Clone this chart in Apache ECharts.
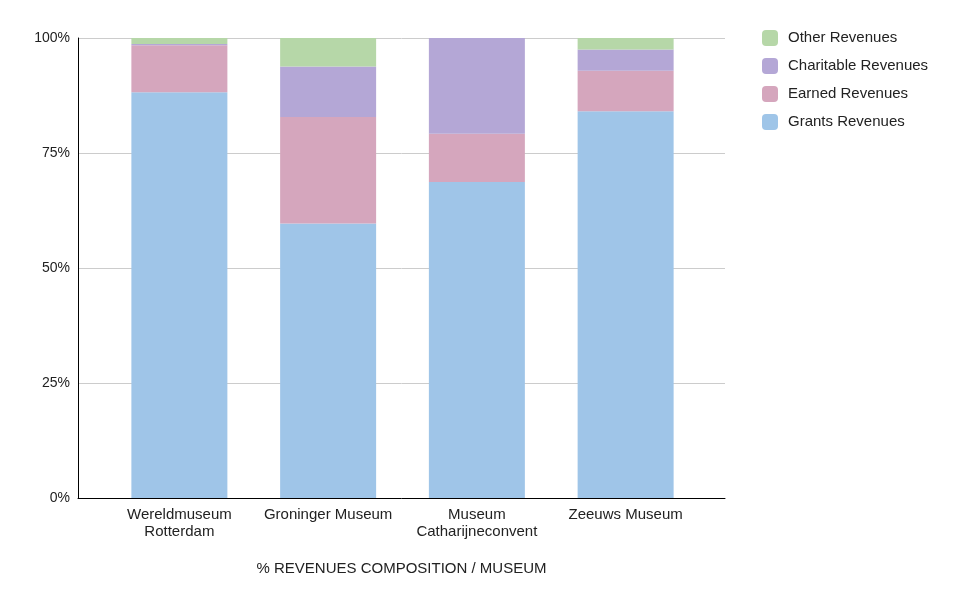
<!DOCTYPE html>
<html><head><meta charset="utf-8">
<script src="https://cdn.jsdelivr.net/npm/echarts@6/dist/echarts.min.js"></script>
<style>html,body{margin:0;padding:0;background:#fff}#c{width:962px;height:606px}</style>
</head><body><div id="c"></div>
<script>
const categories = ['Wereldmuseum\nRotterdam', 'Groninger Museum', 'Museum\nCatharijneconvent', 'Zeeuws Museum'];
const grants = [88.2, 59.7, 68.7, 84.1];
const earned = [10.2, 23.1, 10.5, 8.8];
const charitable = [0.3, 11.0, 20.8, 4.6];
const other = [1.3, 6.2, 0, 2.5];
const yTicks = [0, 25, 50, 75, 100];

const font = 'Liberation Sans, Arial, sans-serif';
const chart = echarts.init(document.getElementById('c'));
function bar(name, data, color) {
  return { name, type: 'bar', stack: 's', data, xAxisIndex: 1, yAxisIndex: 1,
    barWidth: 96, itemStyle: { color }, emphasis: { disabled: true } };
}
chart.setOption({
  animation: false,
  textStyle: { fontFamily: font },
  legend: {
    orient: 'vertical', left: 757, top: 25, itemGap: 12, itemWidth: 16, itemHeight: 16,
    icon: 'roundRect', data: ['Other Revenues', 'Charitable Revenues', 'Earned Revenues', 'Grants Revenues'],
    textStyle: { fontSize: 15, color: '#222', fontFamily: font, padding: [0, 0, 0, 5] }
  },
  grid: [
    { left: 78, right: 237, top: 38, bottom: 108 },
    { left: 105, right: 262, top: 38, bottom: 108 }
  ],
  xAxis: [
    { type: 'category', gridIndex: 0, data: categories, axisTick: { show: false }, axisLabel: { show: false },
      axisLine: { lineStyle: { color: '#000', width: 1 } },
      name: '% REVENUES COMPOSITION / MUSEUM', nameLocation: 'middle', nameGap: 63,
      nameTextStyle: { fontSize: 15, color: '#222', fontFamily: font } },
    { type: 'category', gridIndex: 1, data: categories, axisTick: { show: false }, axisLine: { show: false },
      axisLabel: { fontSize: 15, color: '#222', margin: 8, lineHeight: 17, fontFamily: font, interval: 0 } }
  ],
  yAxis: [
    { type: 'value', gridIndex: 0, min: 0, max: 100, interval: 25,
      axisLine: { show: true, lineStyle: { color: '#000', width: 1 } }, axisTick: { show: false },
      splitLine: { lineStyle: { color: '#cccccc' } },
      axisLabel: { fontSize: 14, color: '#222', margin: 8, fontFamily: font,
        formatter: v => yTicks.includes(v) ? v + '%' : '' } },
    { type: 'value', gridIndex: 1, min: 0, max: 100, interval: 25, show: false, splitLine: { show: false } }
  ],
  series: [
    bar('Grants Revenues', grants, '#9fc5e8'),
    bar('Earned Revenues', earned, '#d5a6bd'),
    bar('Charitable Revenues', charitable, '#b4a7d6'),
    bar('Other Revenues', other, '#b6d7a8')
  ]
});
</script></body></html>
